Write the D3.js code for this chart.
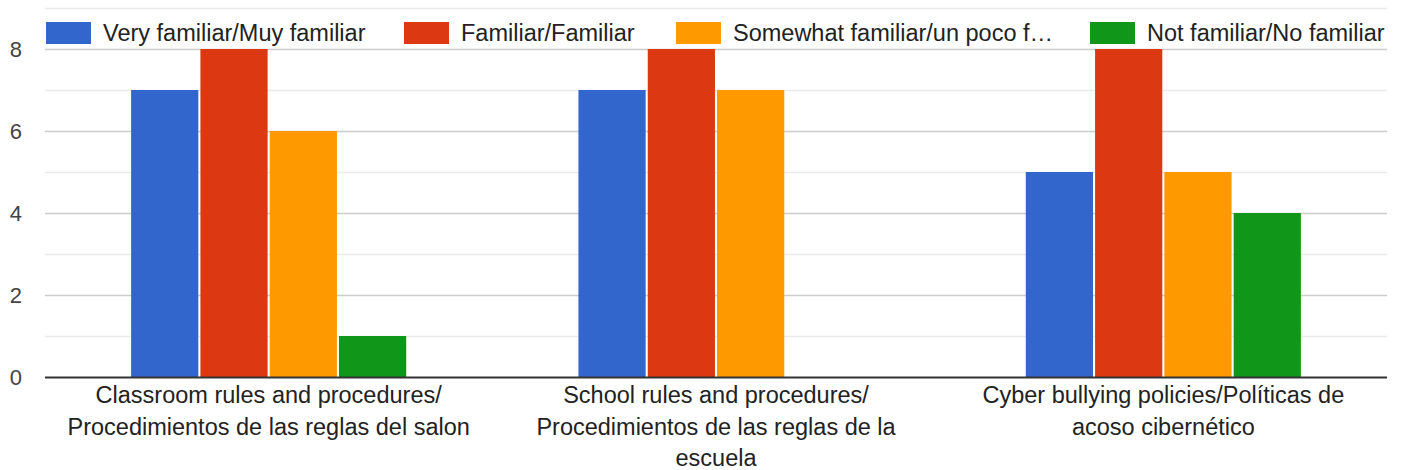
<!DOCTYPE html>
<html><head><meta charset="utf-8">
<script src="https://cdn.jsdelivr.net/npm/d3@7"></script>
<style>body{margin:0;background:#fff;}svg{display:block;font-family:"Liberation Sans",Arial,sans-serif;}</style>
</head><body><svg id="c" width="1403" height="470"></svg>
<script>
const categories = ["Classroom rules and procedures/Procedimientos de las reglas del salon","School rules and procedures/Procedimientos de las reglas de la escuela","Cyber bullying policies/Políticas de acoso cibernético"];
const categoryLines = [["Classroom rules and procedures/","Procedimientos de las reglas del salon"],["School rules and procedures/","Procedimientos de las reglas de la","escuela"],["Cyber bullying policies/Políticas de","acoso cibernético"]];
const series = ["Very familiar/Muy familiar","Familiar/Familiar","Somewhat familiar/un poco f…","Not familiar/No familiar"];
const veryFamiliar = [7,7,5];
const familiar = [8,8,8];
const somewhatFamiliar = [6,7,5];
const notFamiliar = [1,0,4];
const colors = ["#3366cc","#dc3912","#ff9900","#109618"];
const yTicks = [0,2,4,6,8];
const values = [veryFamiliar,familiar,somewhatFamiliar,notFamiliar];

const svg = d3.select("#c");
const pLeft=45,pRight=1387,pTop=8,pBottom=377;
const x = d3.scaleBand().domain(categories).range([pLeft,pRight]).paddingInner(0.385).paddingOuter(0.1925);
const xs = d3.scaleBand().domain(series).range([0,x.bandwidth()]).paddingInner(0.03);
const y = d3.scaleLinear().domain([0,9]).range([pBottom,pTop]);

// gridlines
const gl = svg.append("g");
d3.range(1,10).forEach(v=>{
  gl.append("line").attr("x1",pLeft).attr("x2",pRight).attr("y1",Math.round(y(v))+0.5).attr("y2",Math.round(y(v))+0.5)
    .attr("stroke", v%2===0 ? "#cccccc" : "#ebebeb").attr("stroke-width",1.5);
});
// y axis labels
const ya = d3.axisLeft(y).tickValues(yTicks).tickSize(0).tickPadding(0);
const yg = svg.append("g").attr("transform",`translate(${22},0)`).call(ya);
yg.select(".domain").remove();
yg.selectAll("text").attr("font-size",22).attr("fill","#444").attr("font-family","Liberation Sans,Arial,sans-serif").attr("dy","0.35em");

// bars
categories.forEach((c,ci)=>{
  series.forEach((s,si)=>{
    const v = values[si][ci];
    if(v<=0) return;
    svg.append("rect").attr("x",x(c)+xs(s)).attr("width",xs.bandwidth())
      .attr("y",y(v)).attr("height",y(0)-y(v)).attr("fill",colors[si]);
  });
});
// baseline
svg.append("line").attr("x1",pLeft).attr("x2",pRight).attr("y1",pBottom+0.5).attr("y2",pBottom+0.5).attr("stroke","#333").attr("stroke-width",2);

// x labels
const xa = d3.axisBottom(x).tickSize(0).tickFormat("");
const xg = svg.append("g").attr("transform",`translate(0,${pBottom})`).call(xa);
xg.select(".domain").remove();
xg.selectAll(".tick").each(function(d,i){
  const t = d3.select(this).append("text").attr("fill","#222").attr("font-size",23.5).attr("text-anchor","middle").attr("font-family","Liberation Sans,Arial,sans-serif");
  categoryLines[i].forEach((ln,li)=>{
    t.append("tspan").attr("x",0).attr("y",26+li*31.5).text(ln);
  });
});

// legend
const legX = [46,404,676,1090];
const lg = svg.append("g");
series.forEach((s,i)=>{
  lg.append("rect").attr("x",legX[i]).attr("y",22).attr("width",45).attr("height",22).attr("fill",colors[i]);
  lg.append("text").attr("x",legX[i]+57).attr("y",41).attr("font-size",23.5).attr("fill","#222").text(s);
});
</script></body></html>
